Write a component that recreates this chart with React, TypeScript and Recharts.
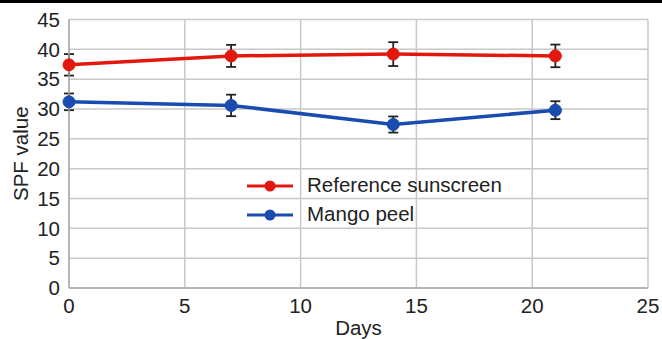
import React from "react";
import { LineChart, Line, XAxis, YAxis, CartesianGrid, ErrorBar, Legend } from "recharts";

const days = [0, 7, 14, 21];
const referenceSPF = [37.4, 38.9, 39.2, 38.9];
const referenceErr = [1.8, 1.85, 2.0, 1.9];
const mangoSPF = [31.2, 30.6, 27.4, 29.8];
const mangoErr = [1.4, 1.8, 1.35, 1.5];
const xTicks = [0, 5, 10, 15, 20, 25];
const yTicks = [0, 5, 10, 15, 20, 25, 30, 35, 40, 45];

const data = days.map((d, i) => ({
  day: d,
  ref: referenceSPF[i],
  refErr: referenceErr[i],
  mango: mangoSPF[i],
  mangoErr: mangoErr[i],
}));

const RED = "#e2180e";
const BLUE = "#1a4bb0";
const FONT = "'Liberation Sans', Arial, sans-serif";
const FS = 20.5;

const legendItems = [
  { label: "Reference sunscreen", color: RED },
  { label: "Mango peel", color: BLUE },
];

const LegendContent = () => (
  <div style={{ fontFamily: FONT, fontSize: FS, color: "#222", lineHeight: 1 }}>
    {legendItems.map((it) => (
      <div key={it.label} style={{ display: "flex", alignItems: "center", height: 29 }}>
        <svg width={62} height={14} style={{ display: "block" }}>
          <line x1={2} y1={7} x2={48} y2={7} stroke={it.color} strokeWidth={3} />
          <circle cx={25} cy={7} r={5.5} fill={it.color} />
        </svg>
        <span>{it.label}</span>
      </div>
    ))}
  </div>
);

export default function App() {
  return (
    <div style={{ position: "absolute", left: 0, top: 0, width: 662, height: 339, background: "#fff" }}>
      <div style={{ position: "absolute", left: 0, top: 0, width: 662, height: 3, background: "#000", zIndex: 2 }} />
      <LineChart
        width={662}
        height={339}
        data={data}
        margin={{ top: 19.5, right: 14, bottom: 11, left: 0 }}
        style={{ fontFamily: FONT }}
      >
        <CartesianGrid stroke="#c8c8c8" strokeWidth={1.5} />
        <XAxis
          dataKey="day"
          type="number"
          domain={[0, 25]}
          ticks={xTicks}
          tickLine={false}
          tickSize={0}
          tickMargin={10}
          axisLine={{ stroke: "#aaa", strokeWidth: 1.5 }}
          tick={{ fill: "#222", fontSize: FS }}
          height={40}
          label={{ value: "Days", position: "insideBottom", offset: -7, fill: "#222", fontSize: FS }}
        />
        <YAxis
          type="number"
          domain={[0, 45]}
          ticks={yTicks}
          tickLine={false}
          tickSize={0}
          tickMargin={9}
          axisLine={{ stroke: "#aaa", strokeWidth: 1.5 }}
          tick={{ fill: "#222", fontSize: FS }}
          width={69}
          label={{ value: "SPF value", angle: -90, position: "insideLeft", offset: 21, fill: "#222", fontSize: FS, style: { textAnchor: "middle" } }}
        />
        <Legend
          content={<LegendContent />}
          layout="vertical"
          verticalAlign="middle"
          align="center"
          wrapperStyle={{ left: 245, top: 171, width: "auto" }}
        />
        <Line
          dataKey="ref"
          stroke={RED}
          strokeWidth={3.5}
          dot={{ r: 6, fill: RED, stroke: RED, strokeWidth: 1 }}
          isAnimationActive={false}
        >
          <ErrorBar dataKey="refErr" direction="y" width={5} stroke="#222" strokeWidth={1.8} />
        </Line>
        <Line
          dataKey="mango"
          stroke={BLUE}
          strokeWidth={3.5}
          dot={{ r: 6, fill: BLUE, stroke: BLUE, strokeWidth: 1 }}
          isAnimationActive={false}
        >
          <ErrorBar dataKey="mangoErr" direction="y" width={5} stroke="#222" strokeWidth={1.8} />
        </Line>
      </LineChart>
    </div>
  );
}
